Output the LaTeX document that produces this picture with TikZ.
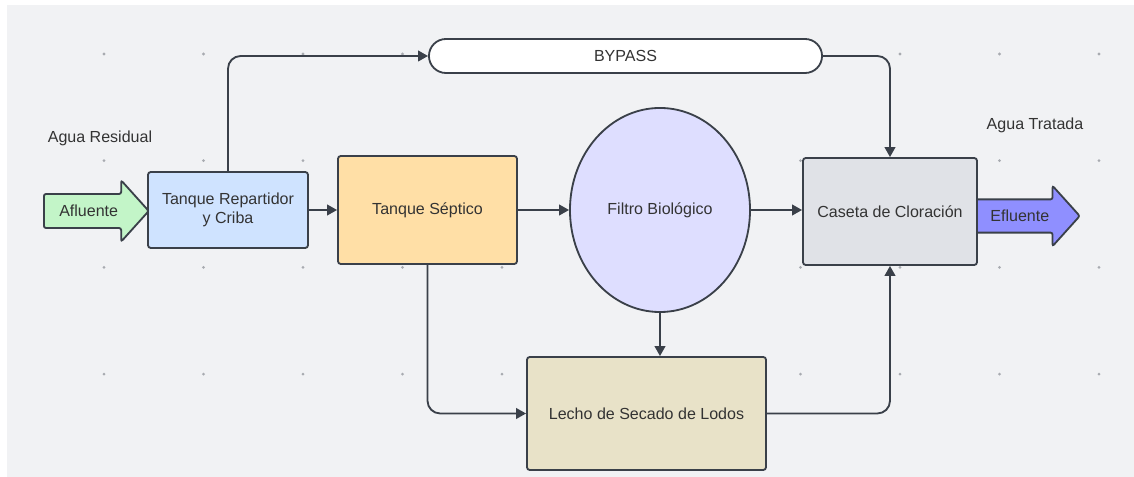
\documentclass[tikz,border=0pt]{standalone}
\usepackage{fontspec}
\setmainfont{Liberation Sans}
\usetikzlibrary{shapes.geometric}
\usetikzlibrary{shapes.arrows}
\usetikzlibrary{arrows.meta}

\definecolor{bgcol}{HTML}{F1F2F4}
\definecolor{dotcol}{HTML}{A8ABB0}
\definecolor{linecol}{HTML}{3A4049}
\definecolor{txtcol}{HTML}{333333}
\definecolor{aflcol}{HTML}{C3F5C8}
\definecolor{repcol}{HTML}{CFE3FF}
\definecolor{sepcol}{HTML}{FFDFA6}
\definecolor{filcol}{HTML}{DEDEFF}
\definecolor{cascol}{HTML}{E0E2E7}
\definecolor{leccol}{HTML}{E8E2C8}
\definecolor{eflcol}{HTML}{8F8FFF}

\begin{document}
\begin{tikzpicture}[x=0.025cm,y=-0.025cm,
    box/.style={rectangle,draw=linecol,line width=1.3pt,rounded corners=2pt,
      text=txtcol,align=center,font=\fontsize{11.4}{13.8}\selectfont},
    flowarrow/.style={single arrow,draw=linecol,line width=1.3pt,rounded corners=1.5pt,
      text=txtcol,font=\fontsize{11.4}{13.8}\selectfont,anchor=tail,
      minimum height=2.62cm,single arrow head extend=0.34cm,single arrow tip angle=96,
      text height=8.3pt,text depth=0pt,inner ysep=7.3pt,inner xsep=2pt},
    lbl/.style={text=txtcol,font=\fontsize{11.4}{13.8}\selectfont},
    flow/.style={draw=linecol,line width=1.3pt,rounded corners=9pt,
      arrows=-{Triangle[length=7pt,width=7.5pt]}}]

    \useasboundingbox (0,0) rectangle (1134,477);
    \fill[bgcol] (7,5) rectangle (1134,477);

    % grid dots
    \foreach \i in {0,...,10}
      \foreach \j in {0,...,3}
        \fill[dotcol] (104+99.5*\i,54+106.7*\j) circle (1.1pt);

    \path   (43,211)    node (afl) [flowarrow,fill=aflcol] {Afluente}
            (228,210)   node (rep) [box,fill=repcol,minimum width=4cm,minimum height=1.9cm] {Tanque Repartidor\\y Criba}
            (427.5,210) node (sep) [box,fill=sepcol,minimum width=4.475cm,minimum height=2.7cm] {Tanque Séptico}
            (660,210)   node (fil) [ellipse,draw=linecol,line width=1.3pt,fill=filcol,text=txtcol,
                                    font=\fontsize{11.4}{13.8}\selectfont,
                                    minimum width=4.5cm,minimum height=5.1cm,inner sep=0pt] {Filtro Biológico}
            (974,216)   node (efl) [flowarrow,fill=eflcol,inner ysep=7pt] {Efluente}
            (890,211.5) node (cas) [box,fill=cascol,minimum width=4.35cm,minimum height=2.675cm] {Caseta de Cloración}
            (646.5,413.5) node (lec) [box,fill=leccol,minimum width=5.975cm,minimum height=2.825cm] {Lecho de Secado de Lodos}
            (625.5,56)  node (byp) [box,fill=white,rounded corners=0.425cm,minimum width=9.825cm,minimum height=0.85cm] {BYPASS}
            (100,138)   node (res) [lbl] {Agua Residual}
            (1035,125)  node (tra) [lbl] {Agua Tratada};

    \draw[flow] (rep.east) -- (sep.west);
    \draw[flow] (sep.east) -- (fil.west);
    \draw[flow] (fil.east) -- (fil.east -| cas.west);
    \draw[flow] (fil.south) -- (fil.south |- lec.north);
    \draw[flow] (sep.south) |- (lec.west);
    \draw[flow] (lec.east) -| (cas.south);
    \draw[flow] (rep.north) |- (byp.west);
    \draw[flow] (byp.east) -| (cas.north);
\end{tikzpicture}
\end{document}
